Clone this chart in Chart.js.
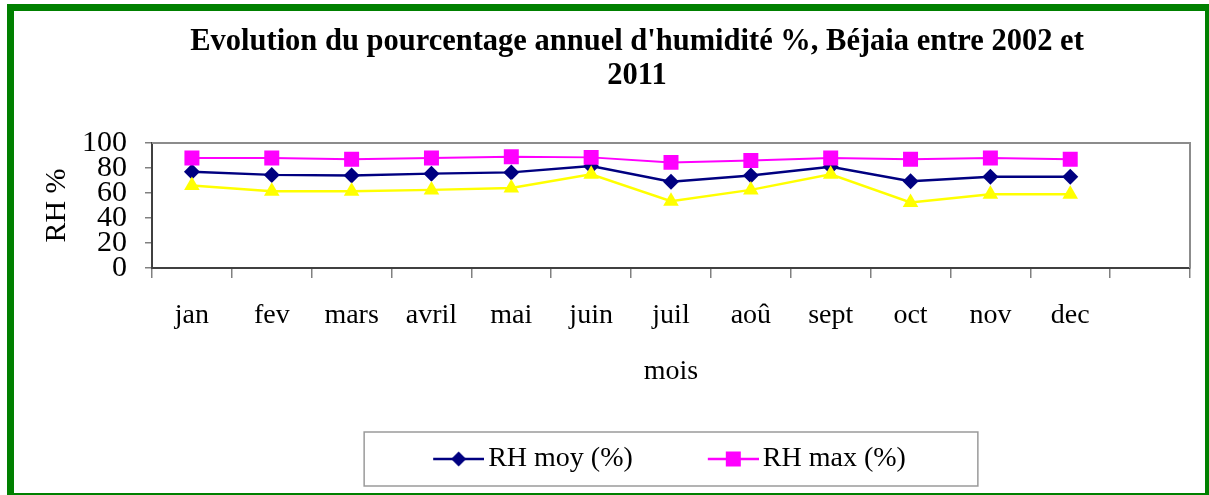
<!DOCTYPE html>
<html>
<head>
<meta charset="utf-8">
<script src="https://cdn.jsdelivr.net/npm/chart.js@4/dist/chart.umd.min.js"></script>
<style>
  html, body { margin: 0; padding: 0; background: #ffffff; overflow: hidden; }
  #frame { position: absolute; left: 7px; top: 4px; width: 1205px; height: 496px; box-sizing: border-box; border: 7px solid #008000; }
  #wrap { position: absolute; left: 0; top: 0; width: 1209px; height: 495px; }
</style>
</head>
<body>
<div id="frame"></div>
<div id="wrap"><canvas id="c" width="1209" height="495"></canvas></div>
<script>
const categories = ['jan', 'fev', 'mars', 'avril', 'mai', 'juin', 'juil', 'aoû', 'sept', 'oct', 'nov', 'dec', ''];
const rhMoy = [77, 74.5, 74, 75.5, 76.5, 81.5, 69, 74, 81, 69.5, 73, 73, null];
const rhMax = [88, 88, 87, 88, 89, 88.5, 84.5, 86, 88, 87, 88, 87, null];
const rhMin = [66, 61.5, 61.5, 62.5, 64, 75, 53.5, 62.5, 75, 52.5, 59, 59, null];
const yTicks = [0, 20, 40, 60, 80, 100];
const titleLines = ["Evolution du pourcentage annuel d'humidité %, Béjaia entre 2002 et", "2011"];
const seriesNames = ['RH moy (%)', 'RH max (%)', 'RH min (%)'];

const SERIF = "'Liberation Serif', 'Times New Roman', serif";
const PSW = 106; // legend point-style slot width

function makeIcon(color, style, r) {
  const w = PSW + 20, h = 24;
  const cv = document.createElement('canvas');
  cv.width = w; cv.height = h;
  const g = cv.getContext('2d');
  const x0 = w - 51, cx = w - 25.5, cy = h / 2;
  g.strokeStyle = color; g.lineWidth = 2.5;
  g.beginPath(); g.moveTo(x0, cy); g.lineTo(w, cy); g.stroke();
  g.fillStyle = color;
  g.beginPath();
  if (style === 'rectRot') {
    g.moveTo(cx - r, cy); g.lineTo(cx, cy - r); g.lineTo(cx + r, cy); g.lineTo(cx, cy + r); g.closePath();
  } else {
    g.rect(cx - r, cy - r, 2 * r, 2 * r);
  }
  g.fill();
  return cv;
}

const plotFrame = {
  id: 'plotFrame',
  beforeDatasetsDraw(chart) {
    const {ctx, chartArea: a} = chart;
    ctx.save();
    ctx.strokeStyle = '#8c8c8c';
    ctx.lineWidth = 2;
    ctx.beginPath();
    ctx.moveTo(a.left, a.top); ctx.lineTo(a.right, a.top); ctx.lineTo(a.right, a.bottom);
    ctx.stroke();
    ctx.restore();
  }
};

const legendBox = {
  id: 'legendBox',
  afterDraw(chart) {
    const lg = chart.legend;
    if (!lg || !lg.legendHitBoxes || !lg.legendHitBoxes.length) return;
    const hb = lg.legendHitBoxes;
    const last = hb[hb.length - 1];
    const left = hb[0].left - 4;
    const right = last.left + last.width + 72;
    const top = lg.top - 3, bottom = lg.bottom + 3;
    const ctx = chart.ctx;
    ctx.save();
    ctx.strokeStyle = '#9a9a9a';
    ctx.lineWidth = 1.5;
    ctx.strokeRect(left, top, right - left, bottom - top);
    ctx.restore();
  }
};

const icons = [makeIcon('#000080', 'rectRot', 7.5), makeIcon('#ff00ff', 'rect', 7.5)];

new Chart(document.getElementById('c'), {
  type: 'line',
  data: {
    labels: categories,
    datasets: [
      { label: seriesNames[0], data: rhMoy, order: 3, borderColor: '#000080', backgroundColor: '#000080',
        borderWidth: 2.5, pointStyle: 'rectRot', pointRadius: 8, pointBorderWidth: 0, tension: 0 },
      { label: seriesNames[1], data: rhMax, order: 2, borderColor: '#ff00ff', backgroundColor: '#ff00ff',
        borderWidth: 2, pointStyle: 'rect', pointRadius: 10.6, pointBorderWidth: 0, tension: 0 },
      { label: seriesNames[2], data: rhMin, order: 1, borderColor: '#ffff00', backgroundColor: '#ffff00',
        borderWidth: 2.5, pointStyle: 'triangle', pointRadius: 9, pointBorderWidth: 0, tension: 0 }
    ]
  },
  options: {
    responsive: false,
    animation: false,
    devicePixelRatio: 1,
    layout: { padding: { top: 4, left: 84, right: 19, bottom: 12 } },
    plugins: {
      tooltip: { enabled: false },
      title: {
        display: true,
        text: titleLines,
        color: '#000000',
        font: { family: SERIF, size: 30.5, weight: 'bold', lineHeight: 34 / 30.5 },
        padding: { top: 21, bottom: 50 }
      },
      legend: {
        display: true,
        position: 'bottom',
        reverse: true,
        labels: {
          color: '#000000',
          font: { family: SERIF, size: 28 },
          usePointStyle: true,
          pointStyleWidth: PSW,
          padding: 10,
          filter: (item) => item.datasetIndex < 2,
          generateLabels(chart) {
            const items = Chart.defaults.plugins.legend.labels.generateLabels(chart);
            return items.map(it => { if (it.datasetIndex < 2) it.pointStyle = icons[it.datasetIndex]; return it; });
          }
        }
      }
    },
    scales: {
      x: {
        type: 'category',
        offset: true,
        grid: { display: true, offset: true, drawOnChartArea: false, drawTicks: true, tickLength: 10, color: '#808080', lineWidth: 1.5 },
        border: { display: true, color: '#404040', width: 2 },
        ticks: { color: '#000000', font: { family: SERIF, size: 28 }, padding: 21, maxRotation: 0, autoSkip: false },
        title: { display: true, text: 'mois', color: '#000000', font: { family: SERIF, size: 28 }, padding: { top: 1.6, bottom: 46.2 } }
      },
      y: {
        min: yTicks[0],
        max: yTicks[yTicks.length - 1],
        afterFit(scale) { scale.width = 68; },
        grid: { display: true, drawOnChartArea: false, drawTicks: true, tickLength: 7, color: '#808080', lineWidth: 1.5 },
        border: { display: true, color: '#404040', width: 2 },
        ticks: { stepSize: yTicks[1] - yTicks[0], autoSkip: false, color: '#000000', font: { family: SERIF, size: 30 }, padding: 18 },
        title: { display: true, text: 'RH %', color: '#000000', font: { family: SERIF, size: 30 }, padding: { top: -45, bottom: 0 } }
      }
    }
  },
  plugins: [plotFrame, legendBox]
});
</script>
</body>
</html>
